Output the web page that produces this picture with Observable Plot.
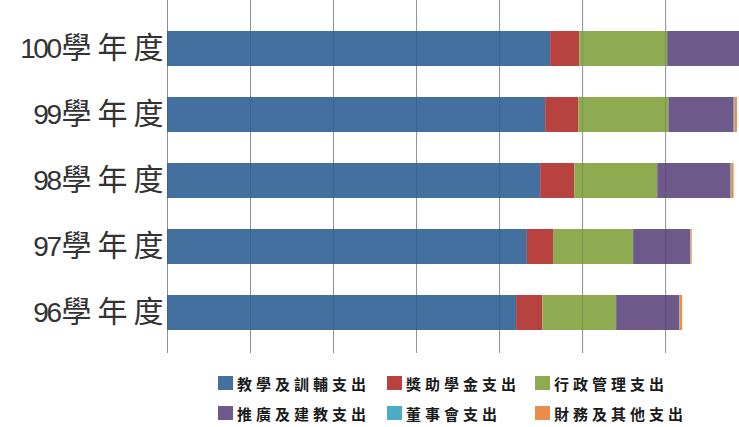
<!DOCTYPE html>
<html><head><meta charset="utf-8">
<script src="https://cdn.jsdelivr.net/npm/d3@7"></script>
<script src="https://cdn.jsdelivr.net/npm/@observablehq/plot@0.6"></script>
<style>
body{margin:0;background:#fff;}
#chart svg{display:block;}
#legend{position:relative;height:67px;box-sizing:border-box;padding-top:8px;padding-left:218px;
  display:grid;grid-template-columns:169px 148px auto;grid-auto-rows:30px;
  font-family:"Noto Sans CJK TC","Noto Sans CJK SC",sans-serif;font-size:15px;font-weight:bold;color:#1a1a1a;letter-spacing:4px;}
#legend .item{display:flex;align-items:center;white-space:nowrap;}
#legend .sw{width:15px;height:14px;margin-right:4px;flex:none;}
</style></head><body>
<div id="chart"></div><div id="legend"></div>
<script>
const years = ["100學年度","99學年度","98學年度","97學年度","96學年度"];
const seriesNames = ["教學及訓輔支出","獎助學金支出","行政管理支出","推廣及建教支出","董事會支出","財務及其他支出"];
const colors = ["#44709f","#b8423f","#8fab52","#6d5a8a","#4aacc6","#e98c4c"];
const teaching    = [92.3, 91.1, 89.9, 86.7, 84.1];
const scholarship = [7.0, 8.0, 8.2, 6.3, 6.3];
const admin       = [21.2, 21.7, 20.0, 19.3, 17.8];
const extension   = [19.5, 15.7, 17.6, 13.7, 15.2];
const board       = [0.2, 0.2, 0.2, 0.1, 0.1];
const finance     = [0.5, 0.6, 0.6, 0.3, 0.6];
const gridTicks = [0, 20, 40, 60, 80, 100, 120];

const seriesValues = [teaching, scholarship, admin, extension, board, finance];
const data = years.flatMap((y, i) => seriesNames.map((s, j) => ({year: y, series: s, value: seriesValues[j][i]})));

const chart = Plot.plot({
  width: 739, height: 360,
  marginLeft: 167, marginRight: 0, marginTop: 0, marginBottom: 7,
  style: {fontSize: "28px", fontFamily: "'Liberation Sans','Noto Sans CJK TC',sans-serif", color: "#333", background: "#fff"},
  x: {domain: [0, 137.8], axis: null},
  y: {domain: years, paddingInner: 0.474, paddingOuter: 0.391, align: 0.567, axis: null},
  color: {domain: seriesNames, range: colors},
  marks: [
    Plot.ruleX(gridTicks, {stroke: "#a8a8a8", strokeWidth: 1}),
    Plot.barX(data, Plot.stackX({x: "value", y: "year", fill: "series"})),
    Plot.ruleX(gridTicks, {stroke: "#1a2a40", strokeOpacity: 0.18, strokeWidth: 1}),
    Plot.axisY({tickSize: 0, tickPadding: -2, label: null, fontSize: 28})
  ]
});
document.getElementById("chart").append(chart);

// narrow digits, wide CJK characters, as in the reference
d3.select(chart).selectAll("g[aria-label='y-axis tick label'] text").each(function () {
  const t = this.textContent;
  const m = t.match(/^(\d+)(.*)$/);
  if (!m) return;
  const el = d3.select(this);
  el.text(null);
  el.append("tspan").style("letter-spacing", "-2.5px").text(m[1]);
  el.append("tspan").attr("dx", 2).style("font-size", "30px").style("letter-spacing", "6px").text(m[2]);
});

const legend = d3.select("#legend");
const items = legend.selectAll(".item").data(seriesNames).join("div").attr("class", "item");
items.append("div").attr("class", "sw").style("background", (d, i) => colors[i]);
items.append("span").text(d => d);
</script>
</body></html>
